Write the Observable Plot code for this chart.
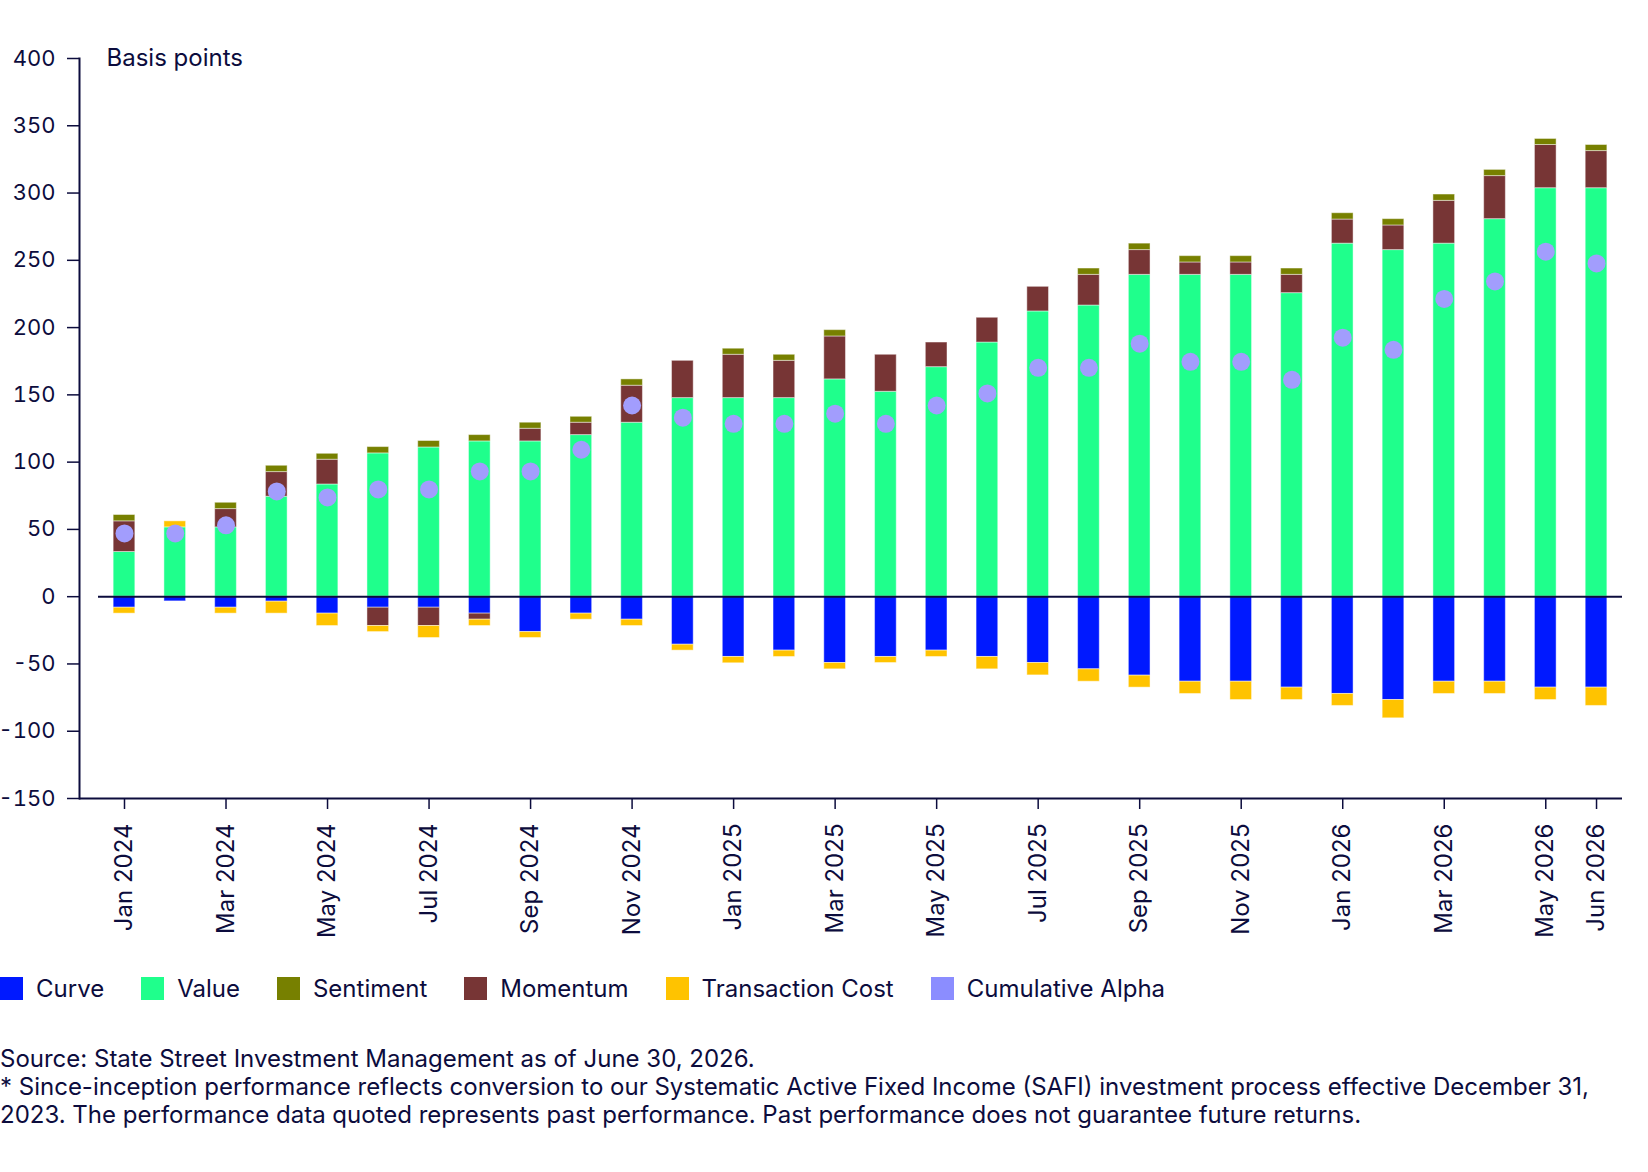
<!DOCTYPE html>
<html>
<head>
<meta charset="utf-8">
<script src="https://cdn.jsdelivr.net/npm/d3@7"></script>
<script src="https://cdn.jsdelivr.net/npm/@observablehq/plot@0.6"></script>
<style>
  body { margin: 0; background: #fff; font-family: Inter, "Noto Sans", sans-serif; color: #0c0c3d; }
  #legend { display: flex; align-items: center; height: 23px; margin-top: 17px; font-size: 24px; }
  .item { display: flex; align-items: center; margin-right: 37px; }
  .sw { width: 23px; height: 23px; margin-right: 13px; }
  #foot { margin-top: 45px; font-size: 24px; line-height: 28px; }
</style>
</head>
<body>
<div id="chart"></div>
<div id="legend"></div>
<div id="foot">Source: State Street Investment Management as of June 30, 2026.<br>* Since-inception performance reflects conversion to our Systematic Active Fixed Income (SAFI) investment process effective December 31,<br>2023. The performance data quoted represents past performance. Past performance does not guarantee future returns.</div>
<script>
const months = [
  "Jan 2024","Feb 2024","Mar 2024","Apr 2024","May 2024","Jun 2024","Jul 2024","Aug 2024","Sep 2024","Oct 2024","Nov 2024","Dec 2024",
  "Jan 2025","Feb 2025","Mar 2025","Apr 2025","May 2025","Jun 2025","Jul 2025","Aug 2025","Sep 2025","Oct 2025","Nov 2025","Dec 2025",
  "Jan 2026","Feb 2026","Mar 2026","Apr 2026","May 2026","Jun 2026"
];
const curve = [-8.2,-3.5,-8.2,-3.7,-12.6,-8.2,-8.2,-12.6,-26.3,-12.6,-17.1,-35.7,-44.8,-40.1,-49.3,-44.8,-40.1,-44.8,-49.3,-54.0,-58.7,-63.2,-63.2,-67.6,-72.3,-76.8,-63.2,-63.2,-67.6,-67.6];
const value = [33.2,51.5,51.5,74.3,83.4,106.5,110.9,115.4,115.4,120.1,129.3,147.6,147.6,147.6,161.5,152.3,170.6,188.9,212.0,216.4,239.2,239.2,239.2,225.6,262.4,257.6,262.4,280.6,303.6,303.6];
const sentiment = [4.7,0,4.7,4.7,4.4,4.7,4.8,4.7,4.5,4.4,4.7,0,4.5,4.5,4.7,0,0,0,0,4.7,4.8,4.7,4.7,4.7,4.7,4.7,4.7,4.6,4.5,4.5];
const momentum = [22.8,0,13.6,18.3,18.4,-13.6,-13.6,-4.5,9.4,9.2,27.5,27.7,32.2,27.7,31.9,27.5,18.3,18.4,18.3,22.8,18.4,9.2,9.2,13.6,17.9,18.3,31.8,32.0,32.1,27.6];
const transactionCost = [-4.4,4.5,-4.4,-8.9,-9.2,-4.5,-8.9,-4.7,-4.4,-4.5,-4.7,-4.4,-4.7,-4.7,-4.7,-4.5,-4.7,-9.2,-9.2,-9.2,-8.9,-9.1,-13.6,-9.2,-8.9,-13.6,-9.1,-9.1,-9.2,-13.6];
const cumulativeAlpha = [47.0,47.0,53.0,78.2,73.8,79.7,79.7,93.1,93.1,109.2,142.1,133.0,128.5,128.5,136.0,128.5,142.1,151.1,170.1,170.1,188.0,174.6,174.6,161.2,192.5,183.5,221.3,234.3,256.4,247.7];

const legendNames = ["Curve","Value","Sentiment","Momentum","Transaction Cost","Cumulative Alpha"];
const legendColors = ["#0019ff","#1fff8c","#778000","#773535","#ffc300","#8b8dff"];
const stackOrder = ["Curve","Value","Momentum","Sentiment","Transaction Cost"];
const xTicks = ["Jan 2024","Mar 2024","May 2024","Jul 2024","Sep 2024","Nov 2024","Jan 2025","Mar 2025","May 2025","Jul 2025","Sep 2025","Nov 2025","Jan 2026","Mar 2026","May 2026","Jun 2026"];
const yTicks = [-150,-100,-50,0,50,100,150,200,250,300,350,400];
const yLabel = "Basis points";

const navy = "#0c0c3d";
const dotColor = "#a29dfd";

const seriesData = {
  "Curve": curve, "Value": value, "Momentum": momentum,
  "Sentiment": sentiment, "Transaction Cost": transactionCost
};
const rows = [];
for (const name of stackOrder) {
  seriesData[name].forEach((v, i) => rows.push({month: months[i], series: name, value: v}));
}
const alphaRows = months.map((m, i) => ({month: m, alpha: cumulativeAlpha[i]}));

const chart = Plot.plot({
  width: 1648,
  height: 960,
  marginLeft: 79,
  marginRight: 26,
  marginTop: 58,
  marginBottom: 162,
  style: {fontFamily: "Inter, 'Noto Sans', sans-serif", fontSize: "24px", color: navy, background: "white", overflow: "visible"},
  x: {type: "band", domain: months, paddingInner: 0.573, paddingOuter: 0.4855, align: 0.693, round: false, label: null},
  y: {domain: [-150, 400], label: null},
  color: {domain: legendNames.slice(0, 5), range: legendColors.slice(0, 5)},
  marks: [
    Plot.barY(rows, {x: "month", y: "value", fill: "series", order: stackOrder, stroke: "#ffffff", strokeOpacity: 0.45, strokeWidth: 1}),
    Plot.ruleY([0], {stroke: navy, strokeWidth: 2, insetLeft: 19}),
    Plot.dot(alphaRows, {x: "month", y: "alpha", r: 9, fill: dotColor, stroke: null}),
    Plot.axisY(yTicks, {tickFormat: d => String(d), tickSize: 12, tickPadding: 12, stroke: navy, strokeWidth: 1.5, fill: navy, fontSize: 22, label: null}),
    Plot.axisX(xTicks, {tickRotate: -90, tickSize: 11, tickPadding: 14, stroke: navy, strokeWidth: 1.5, fill: navy, fontSize: 24, label: null}),
    Plot.frame({anchor: "left", stroke: navy, strokeWidth: 2}),
    Plot.ruleY([-150], {stroke: navy, strokeWidth: 2}),
    Plot.text([yLabel], {frameAnchor: "top-left", dx: 27, lineAnchor: "middle", textAnchor: "start", fill: navy, fontSize: 24})
  ]
});
document.getElementById("chart").appendChild(chart);

const legend = document.getElementById("legend");
legendNames.forEach((n, i) => {
  const it = document.createElement("div");
  it.className = "item";
  const sw = document.createElement("div");
  sw.className = "sw";
  sw.style.background = legendColors[i];
  const t = document.createElement("span");
  t.textContent = n;
  it.appendChild(sw);
  it.appendChild(t);
  legend.appendChild(it);
});
</script>
</body>
</html>
